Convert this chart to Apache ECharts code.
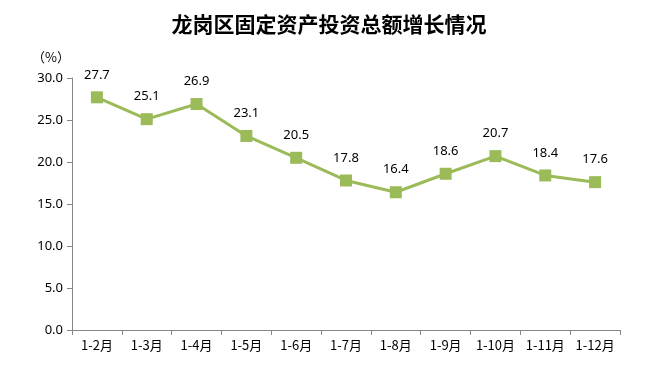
<!DOCTYPE html>
<html><head><meta charset="utf-8">
<script src="https://cdn.jsdelivr.net/npm/echarts@6/dist/echarts.min.js"></script>
<style>html,body{margin:0;padding:0;background:#fff}#c{width:658px;height:391px}</style>
</head><body><div id="c"></div>
<script>
var categories = ['1-2月','1-3月','1-4月','1-5月','1-6月','1-7月','1-8月','1-9月','1-10月','1-11月','1-12月'];
var values = [27.7, 25.1, 26.9, 23.1, 20.5, 17.8, 16.4, 18.6, 20.7, 18.4, 17.6];
var yTicks = {min: 0, max: 30, interval: 5};
var chart = echarts.init(document.getElementById('c'));
chart.setOption({
  animation: false,
  title: {text: '龙岗区固定资产投资总额增长情况', left: 'center', top: 9,
    textStyle: {fontFamily: 'Noto Sans CJK SC', fontSize: 21, fontWeight: 'bold', color: '#000'}},
  grid: {left: 72, right: 38, top: 78, bottom: 61},
  xAxis: {type: 'category', data: categories, boundaryGap: true,
    axisLine: {lineStyle: {color: '#868686'}},
    axisTick: {show: true, alignWithLabel: false, length: 5, lineStyle: {color: '#868686'}},
    axisLabel: {color: '#000', fontSize: 13, margin: 9, fontFamily: 'Noto Sans CJK SC', interval: 0}},
  yAxis: {type: 'value', min: yTicks.min, max: yTicks.max, interval: yTicks.interval,
    name: '（%）', nameLocation: 'end', nameGap: 14,
    nameTextStyle: {color: '#000', fontSize: 13, align: 'right', padding: [0, 2, 0, 0], fontFamily: 'Noto Sans CJK SC'},
    axisLine: {show: true, lineStyle: {color: '#868686'}},
    axisTick: {show: true, length: 5, lineStyle: {color: '#868686'}},
    splitLine: {show: false},
    axisLabel: {color: '#000', fontSize: 13, margin: 9, formatter: function(v){return v.toFixed(1);}, fontFamily: 'Noto Sans'}},
  series: [{type: 'line', data: values, symbol: 'rect', symbolSize: 12,
    lineStyle: {color: '#9BBB59', width: 3},
    itemStyle: {color: '#9BBB59'},
    label: {show: true, position: 'top', distance: 10, color: '#000', fontSize: 13, fontFamily: 'Noto Sans',
      formatter: function(p){return p.value.toFixed(1);}}}]
});
</script></body></html>
